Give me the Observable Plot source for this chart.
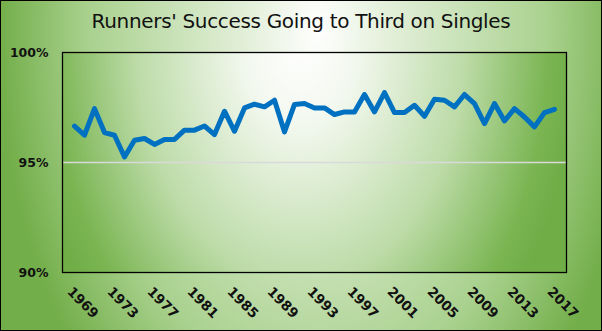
<!DOCTYPE html>
<html>
<head>
<meta charset="utf-8">
<script src="https://cdn.jsdelivr.net/npm/d3@7"></script>
<script src="https://cdn.jsdelivr.net/npm/@observablehq/plot@0.6"></script>
<style>
  html, body { margin: 0; padding: 0; }
  #wrap {
    position: relative; width: 602px; height: 331px; overflow: hidden;
    background: radial-gradient(ellipse 320px 500px at 318px 30px, #ffffff 0%, #e6f1dd 20%, #a9d18e 72%, #72ae49 100%);
  }
  #border { position: absolute; left: 0; top: 0; width: 602px; height: 331px; box-sizing: border-box; border: 1px solid #000; pointer-events: none; }
  #title { height: 38px; line-height: 42px; text-align: center; font-family: "DejaVu Sans", sans-serif; font-size: 20px; letter-spacing: -0.33px; color: #111; padding-left: 0px; }
  svg { display: block; }
</style>
</head>
<body>
<div id="wrap">
  <div id="title">Runners' Success Going to Third on Singles</div>
  <div id="chart"></div>
  <div id="border"></div>
</div>
<script>
const years = d3.range(1969, 2018);
const successPct = [
  96.65, 96.24, 97.45, 96.36, 96.24, 95.25, 96.01, 96.09, 95.82, 96.05,
  96.05, 96.47, 96.47, 96.66, 96.27, 97.33, 96.42, 97.48, 97.65, 97.53,
  97.83, 96.39, 97.64, 97.68, 97.48, 97.48, 97.18, 97.30, 97.30, 98.09,
  97.30, 98.18, 97.27, 97.27, 97.60, 97.10, 97.88, 97.83, 97.53, 98.09,
  97.68, 96.77, 97.68, 96.89, 97.45, 97.07, 96.62, 97.27, 97.42
];
const tickYears = years.filter((d, i) => i % 4 === 0);
const yTicks = [90, 95, 100];

const data = years.map((y, i) => ({year: y, value: successPct[i]}));

const chart = Plot.plot({
  width: 602,
  height: 293,
  marginTop: 14,
  marginBottom: 59,
  marginLeft: 62,
  marginRight: 36,
  style: {background: "transparent", fontFamily: "DejaVu Sans, sans-serif", overflow: "visible"},
  x: {type: "point", domain: years, padding: 0.5, axis: null},
  y: {domain: [90, 100], axis: null},
  marks: [
    Plot.frame({fill: "url(#plotGrad)", stroke: null}),
    Plot.gridY([95], {stroke: "#d9d9d9", strokeOpacity: 1, strokeWidth: 1.5}),
    Plot.line(data, {x: "year", y: "value", stroke: "#0070c0", strokeWidth: 5, strokeLinejoin: "round", strokeLinecap: "round"}),
    Plot.frame({stroke: "#000", strokeWidth: 1.3}),
    Plot.axisY(yTicks, {tickSize: 0, tickPadding: 14, tickFormat: d => d + "%", fontSize: 12.5, fontWeight: "bold", fill: "#111", label: null}),
    Plot.text(tickYears, {x: d => d, frameAnchor: "bottom", dx: -5, dy: 17, rotate: 45, textAnchor: "start", lineAnchor: "middle", text: d => String(d), fontSize: 13.5, fontWeight: "bold", fill: "#111"})
  ]
});

const svg = d3.select(chart);
const defs = svg.insert("defs", ":first-child");
const g = defs.append("radialGradient")
  .attr("id", "plotGrad")
  .attr("gradientUnits", "userSpaceOnUse")
  .attr("cx", 0).attr("cy", 0).attr("r", 1)
  .attr("gradientTransform", "translate(300,5) scale(275,400)");
[[0, "#ffffff"], [0.2, "#f3f8ef"], [0.6, "#bcdba7"], [0.9, "#7ab552"], [1, "#70ad47"]].forEach(([o, c]) => {
  g.append("stop").attr("offset", o).attr("stop-color", c);
});

document.getElementById("chart").appendChild(chart);
</script>
</body>
</html>
